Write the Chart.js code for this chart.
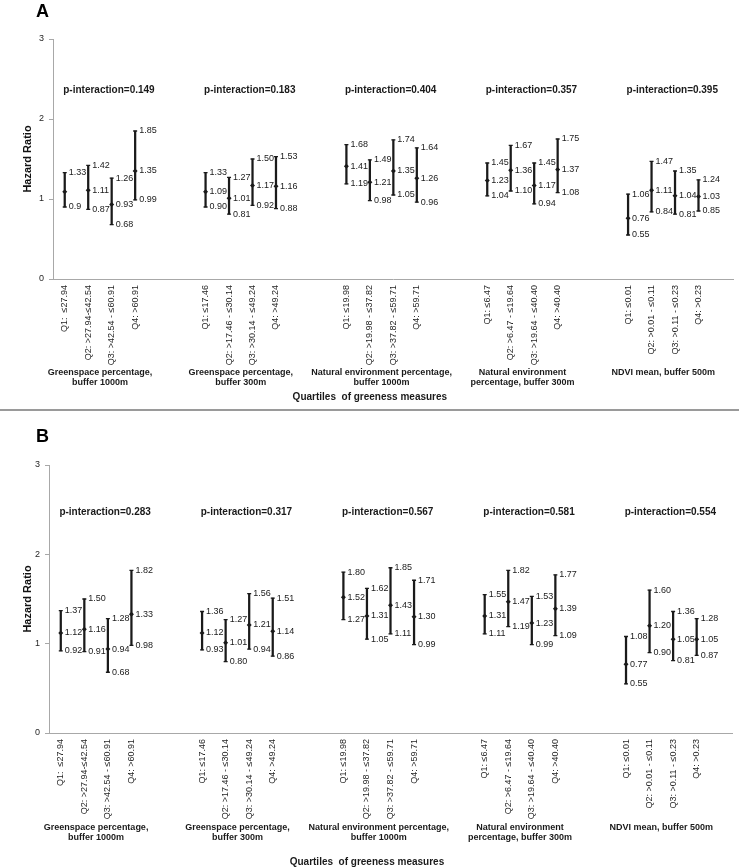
<!DOCTYPE html>
<html>
<head>
<meta charset="utf-8">
<script src="https://cdn.jsdelivr.net/npm/chart.js@4.4.1/dist/chart.umd.min.js"></script>
<style>
  body { margin: 0; background: #fff; }
  #wrap { position: relative; width: 739px; height: 868px; }
  #boxA { position: absolute; left: 0; top: 0; width: 739px; height: 408px; }
  #rule { position: absolute; left: 0; top: 409px; width: 739px; height: 2px; background: #9a9a9a; }
  #boxB { position: absolute; left: 0; top: 412px; width: 739px; height: 456px; }
</style>
</head>
<body>
<div id="wrap">
  <div id="boxA"><canvas id="chartA"></canvas></div>
  <div id="rule"></div>
  <div id="boxB"><canvas id="chartB"></canvas></div>
</div>
<script>
const groupNames = [
  ['Greenspace percentage,', 'buffer 1000m'],
  ['Greenspace percentage,', 'buffer 300m'],
  ['Natural environment percentage,', 'buffer 1000m'],
  ['Natural environment', 'percentage, buffer 300m'],
  ['NDVI mean, buffer 500m']
];
const quartileLabels = [
  'Q1:  \u226427.94', 'Q2: >27.94-\u226442.54', 'Q3: >42.54 - \u226460.91', 'Q4: >60.91',
  'Q1: \u226417.46', 'Q2: >17.46 - \u226430.14', 'Q3: >30.14 - \u226449.24', 'Q4: >49.24',
  'Q1: \u226419.98', 'Q2: >19.98 - \u226437.82', 'Q3: >37.82 - \u226459.71', 'Q4: >59.71',
  'Q1: \u22646.47', 'Q2: >6.47 - \u226419.64', 'Q3: >19.64 - \u226440.40', 'Q4: >40.40',
  'Q1: \u22640.01', 'Q2: >0.01 - \u22640.11', 'Q3: >0.11 - \u22640.23', 'Q4: >0.23'
];
const axisTitleX = 'Quartiles  of greeness measures';
const yTicks = [0, 1, 2, 3];

// panel A
const pValuesA = ['0.149', '0.183', '0.404', '0.357', '0.395'];
const upperA = [1.33, 1.42, 1.26, 1.85,  1.33, 1.27, 1.50, 1.53,  1.68, 1.49, 1.74, 1.64,  1.45, 1.67, 1.45, 1.75,  1.06, 1.47, 1.35, 1.24];
const hrA    = [1.09, 1.11, 0.93, 1.35,  1.09, 1.01, 1.17, 1.16,  1.41, 1.21, 1.35, 1.26,  1.23, 1.36, 1.17, 1.37,  0.76, 1.11, 1.04, 1.03];
const lowerA = [0.90, 0.87, 0.68, 0.99,  0.90, 0.81, 0.92, 0.88,  1.19, 0.98, 1.05, 0.96,  1.04, 1.10, 0.94, 1.08,  0.55, 0.84, 0.81, 0.85];

// panel B
const pValuesB = ['0.283', '0.317', '0.567', '0.581', '0.554'];
const upperB = [1.37, 1.50, 1.28, 1.82,  1.36, 1.27, 1.56, 1.51,  1.80, 1.62, 1.85, 1.71,  1.55, 1.82, 1.53, 1.77,  1.08, 1.60, 1.36, 1.28];
const hrB    = [1.12, 1.16, 0.94, 1.33,  1.12, 1.01, 1.21, 1.14,  1.52, 1.31, 1.43, 1.30,  1.31, 1.47, 1.23, 1.39,  0.77, 1.20, 1.05, 1.05];
const lowerB = [0.92, 0.91, 0.68, 0.98,  0.93, 0.80, 0.94, 0.86,  1.27, 1.05, 1.11, 0.99,  1.11, 1.19, 0.99, 1.09,  0.55, 0.90, 0.81, 0.87];

// labels printed differently from toFixed(2) in the original
const shownA = { lower: { 0: '0.9' }, hr: { 0: '' } };
const shownB = {};

const FONT = '"Liberation Sans", Arial, sans-serif';

// 4 quartiles per measure, 2 empty slots between measures, 1 at the end
function spread(values) {
  const out = [];
  values.forEach((v, i) => {
    out.push(v);
    if (i % 4 === 3 && i < values.length - 1) out.push(null, null);
  });
  out.push(null);
  return out;
}

const panelText = {
  id: 'panelText',
  afterDraw(chart, args, o) {
    const { ctx, chartArea, scales: { x, y } } = chart;
    ctx.save();

    // value labels to the right of each error bar
    ctx.font = '9px ' + FONT;
    ctx.fillStyle = '#1a1a1a';
    ctx.textAlign = 'left';
    ctx.textBaseline = 'middle';
    o.rows.forEach(row => {
      row.values.forEach((v, i) => {
        if (v === null) return;
        const k = row.index[i];
        const txt = (row.shown && row.shown[k] !== undefined) ? row.shown[k] : v.toFixed(2);
        if (!txt) return;
        ctx.fillText(txt, x.getPixelForValue(i) + 4, y.getPixelForValue(v));
      });
    });

    // p-interaction above each measure
    ctx.font = 'bold 10px ' + FONT;
    ctx.textAlign = 'center';
    o.pValues.forEach((p, g) => {
      const cx = x.getPixelForValue(g * 6 + 1.5) + 9;
      ctx.fillText('p-interaction=' + p, cx, y.getPixelForValue(o.pAt));
    });

    // measure names under the quartile labels
    ctx.font = 'bold 9px ' + FONT;
    groupNames.forEach((lines, g) => {
      const cx = x.getPixelForValue(g * 6 + 1.5);
      lines.forEach((line, j) => {
        ctx.fillText(line, cx, chartArea.bottom + o.nameDy + j * 10);
      });
    });

    ctx.font = 'bold 10px ' + FONT;
    ctx.fillText(axisTitleX, x.getPixelForValue(13), chartArea.bottom + o.axisDy);

    // panel letter
    ctx.font = 'bold 18px ' + FONT;
    ctx.fillStyle = '#000';
    ctx.textAlign = 'left';
    ctx.textBaseline = 'top';
    ctx.fillText(o.letter, 36, o.letterY);
    ctx.restore();
  }
};

function makePanel(id, upper, hr, lower, pValues, shown, geo) {
  const up = spread(upper), mid = spread(hr), lo = spread(lower);
  const idx = spread(upper.map((v, i) => i));
  const labels = spread(quartileLabels).map(l => l === null ? '' : l);

  return new Chart(document.getElementById(id), {
    type: 'bar',
    data: {
      labels: labels,
      datasets: [
        {
          type: 'line', data: mid, showLine: false,
          pointStyle: 'rectRot', pointRadius: 2.5, pointBorderWidth: 0,
          pointBackgroundColor: '#1a1a1a'
        },
        {
          type: 'line', data: up, showLine: false,
          pointStyle: 'line', pointRadius: 2, pointBorderWidth: 1.3,
          pointBorderColor: '#1a1a1a'
        },
        {
          type: 'line', data: lo, showLine: false,
          pointStyle: 'line', pointRadius: 2, pointBorderWidth: 1.3,
          pointBorderColor: '#1a1a1a'
        },
        {
          type: 'bar',
          data: lo.map((l, i) => l === null ? null : [l, up[i]]),
          backgroundColor: '#1a1a1a', barThickness: 1.6, borderWidth: 0
        }
      ]
    },
    options: {
      responsive: true,
      maintainAspectRatio: false,
      animation: false,
      events: [],
      layout: { padding: { left: 0, right: geo.right, top: geo.top, bottom: 0 } },
      plugins: {
        legend: { display: false },
        tooltip: { enabled: false },
        panelText: {
          letter: geo.letter, letterY: geo.letterY, pValues: pValues, pAt: geo.pAt,
          nameDy: geo.nameDy, axisDy: geo.axisDy,
          rows: [
            { values: up, index: idx, shown: shown.upper },
            { values: mid, index: idx, shown: shown.hr },
            { values: lo, index: idx, shown: shown.lower }
          ]
        }
      },
      scales: {
        x: {
          offset: true,
          grid: { display: true, drawOnChartArea: false, drawTicks: false },
          border: { display: true, color: '#a8a8a8', width: 1 },
          ticks: {
            autoSkip: false, minRotation: 90, maxRotation: 90, padding: 6,
            color: '#262626', font: { family: FONT, size: 9 }
          },
          afterFit: s => { s.height = geo.xHeight; }
        },
        y: {
          min: 0, max: 3,
          afterBuildTicks: s => { s.ticks = yTicks.map(v => ({ value: v })); },
          grid: { drawOnChartArea: false, drawTicks: true, tickLength: 4, color: '#a8a8a8' },
          border: { display: true, color: '#a8a8a8', width: 1 },
          ticks: { padding: 5, color: '#262626', font: { family: FONT, size: 9 } },
          title: {
            display: true, text: 'Hazard Ratio', color: '#111',
            font: { family: FONT, size: 11, weight: 'bold' },
            padding: { top: 21, bottom: 0 }
          },
          afterFit: s => { s.width = geo.yWidth; }
        }
      }
    },
    plugins: [panelText]
  });
}

makePanel('chartA', upperA, hrA, lowerA, pValuesA, shownA, {
  letter: 'A', letterY: 3, top: 39, right: 5, yWidth: 53, xHeight: 129,
  pAt: 2.36, nameDy: 94, axisDy: 118
});
makePanel('chartB', upperB, hrB, lowerB, pValuesB, shownB, {
  letter: 'B', letterY: 16, top: 53, right: 7, yWidth: 49, xHeight: 135,
  pAt: 2.475, nameDy: 95, axisDy: 129
});
</script>
</body>
</html>
